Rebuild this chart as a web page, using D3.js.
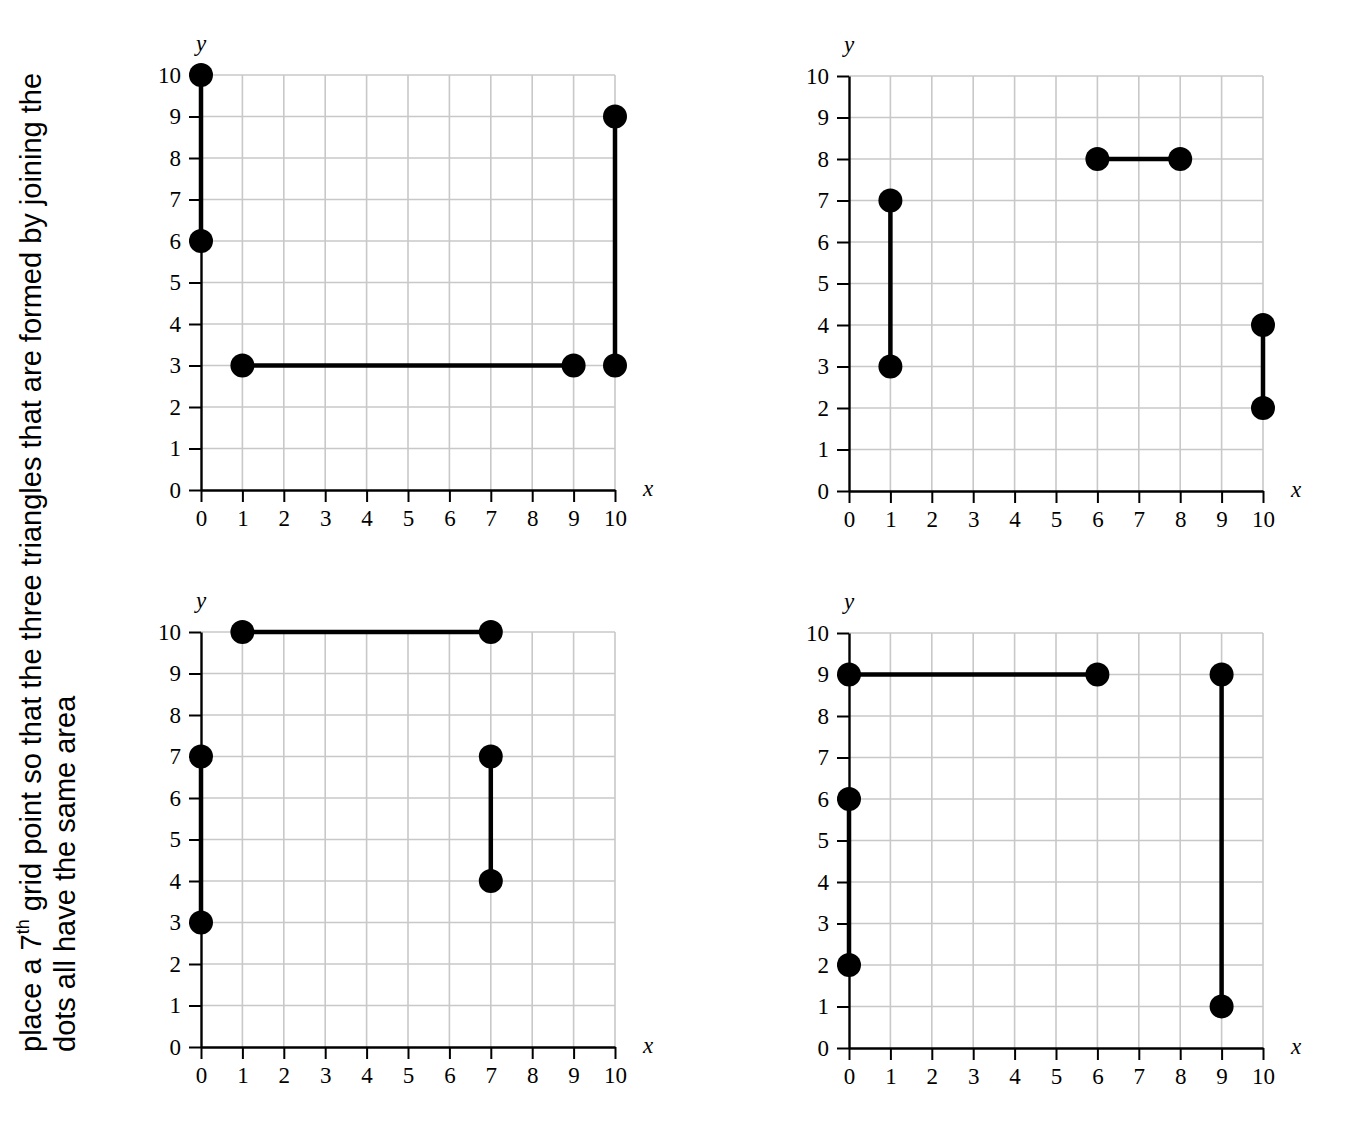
<!DOCTYPE html>
<html>
<head>
<meta charset="utf-8">
<script src="https://cdn.jsdelivr.net/npm/d3@7"></script>
<style>
  body { margin: 0; background: #fff; }
  .tick text { font-family: "Liberation Serif", "DejaVu Serif", serif; font-size: 23px; fill: #000; }
  .tick line { stroke: #000; stroke-width: 2; }
  .axis-label { font-family: "Liberation Serif", serif; font-style: italic; font-size: 23px; }
  .prompt { font-family: "Liberation Sans", Arial, sans-serif; font-size: 29px; }
</style>
</head>
<body>
<svg id="chart" width="1345" height="1123"></svg>
<script>
// grid 0..10 on both axes
const ticks = [0, 1, 2, 3, 4, 5, 6, 7, 8, 9, 10];

// segments per panel: [x1, y1, x2, y2]
const panelA = [[0, 10, 0, 6], [1, 3, 9, 3], [10, 9, 10, 3]];
const panelB = [[1, 7, 1, 3], [6, 8, 8, 8], [10, 4, 10, 2]];
const panelC = [[1, 10, 7, 10], [0, 7, 0, 3], [7, 7, 7, 4]];
const panelD = [[0, 9, 6, 9], [0, 6, 0, 2], [9, 9, 9, 1]];

const promptLines = [
  "place a 7|th| grid point so that the three triangles that are formed by joining the",
  "dots all have the same area"
];

const svgProps = { w: 414, h: 415 };

const panels = [
  { segs: panelA, x: 201, y: 75 },
  { segs: panelB, x: 849, y: 76 },
  { segs: panelC, x: 201, y: 632 },
  { segs: panelD, x: 849, y: 633 }
];

const svg = d3.select("#chart");

panels.forEach(p => {
  const g = svg.append("g").attr("transform", `translate(${p.x}, ${p.y})`);
  const w = svgProps.w, h = svgProps.h;

  const scaleX = d3.scaleLinear().domain([0, 10]).range([0, w]);
  const scaleY = d3.scaleLinear().domain([0, 10]).range([h, 0]);

  // grid
  g.append("g").selectAll("line")
    .data(ticks.slice(1))
    .join("line")
    .attr("x1", d => scaleX(d)).attr("x2", d => scaleX(d))
    .attr("y1", 0).attr("y2", h)
    .attr("stroke", "#c8c8c8").attr("stroke-width", 1.6);
  g.append("g").selectAll("line")
    .data(ticks.slice(1))
    .join("line")
    .attr("y1", d => scaleY(d)).attr("y2", d => scaleY(d))
    .attr("x1", 0).attr("x2", w)
    .attr("stroke", "#c8c8c8").attr("stroke-width", 1.6);

  const xAxis = d3.axisBottom(scaleX).tickValues(ticks).tickSize(12).tickSizeOuter(0).tickPadding(8);
  const yAxis = d3.axisLeft(scaleY).tickValues(ticks).tickSize(12).tickSizeOuter(0).tickPadding(8);

  g.append("g").attr("transform", `translate(0, ${h})`).call(xAxis)
    .call(a => a.select(".domain").attr("stroke", "#000").attr("stroke-width", 2.4));
  g.append("g").call(yAxis)
    .call(a => a.select(".domain").attr("stroke", "#000").attr("stroke-width", 2.4));

  g.append("text").attr("class", "axis-label")
    .attr("x", scaleX(0)).attr("y", scaleY(10) - 24)
    .attr("text-anchor", "middle").text("y");
  g.append("text").attr("class", "axis-label")
    .attr("x", scaleX(10) + 33).attr("y", h + 6)
    .attr("text-anchor", "middle").text("x");

  // segments
  g.append("g").selectAll("line")
    .data(p.segs)
    .join("line")
    .attr("x1", d => scaleX(d[0])).attr("y1", d => scaleY(d[1]))
    .attr("x2", d => scaleX(d[2])).attr("y2", d => scaleY(d[3]))
    .attr("stroke", "#000").attr("stroke-width", 4.5);

  const pts = p.segs.flatMap(d => [[d[0], d[1]], [d[2], d[3]]]);
  g.append("g").selectAll("circle")
    .data(pts)
    .join("circle")
    .attr("cx", d => scaleX(d[0])).attr("cy", d => scaleY(d[1]))
    .attr("r", 12).attr("fill", "#000");
});

// rotated prompt on the left
const prompt = svg.append("g").attr("transform", "rotate(-90)");
promptLines.forEach((line, i) => {
  const t = prompt.append("text").attr("class", "prompt")
    .attr("x", -1052).attr("y", 41 + i * 34);
  line.split("|").forEach((part, j) => {
    const span = t.append("tspan").text(part);
    if (j === 1) span.attr("font-size", "18px").attr("dy", -12);
    if (j === 2) span.attr("dy", 12);
  });
});
</script>
</body>
</html>
